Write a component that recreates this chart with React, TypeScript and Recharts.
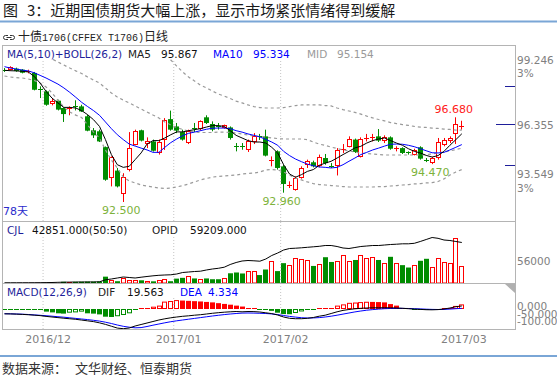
import React from 'react';
import { ComposedChart, Bar, Line, XAxis, YAxis, ReferenceLine, ReferenceDot } from 'recharts';

// ---------- data ----------
const dates = [
  '2016-11-22','2016-11-23','2016-11-24','2016-11-25','2016-11-28','2016-11-29','2016-11-30',
  '2016-12-01','2016-12-02','2016-12-05','2016-12-06','2016-12-07','2016-12-08','2016-12-09','2016-12-12','2016-12-13','2016-12-14','2016-12-15','2016-12-16','2016-12-19','2016-12-20','2016-12-21','2016-12-22','2016-12-23','2016-12-26','2016-12-27','2016-12-28','2016-12-29','2016-12-30',
  '2017-01-03','2017-01-04','2017-01-05','2017-01-06','2017-01-09','2017-01-10','2017-01-11','2017-01-12','2017-01-13','2017-01-16','2017-01-17','2017-01-18','2017-01-19','2017-01-20','2017-01-23','2017-01-24','2017-01-25','2017-01-26',
  '2017-02-03','2017-02-06','2017-02-07','2017-02-08','2017-02-09','2017-02-10','2017-02-13','2017-02-14','2017-02-15','2017-02-16','2017-02-17','2017-02-20','2017-02-21','2017-02-22','2017-02-23','2017-02-24','2017-02-27','2017-02-28',
  '2017-03-01','2017-03-02','2017-03-03','2017-03-06','2017-03-07','2017-03-08','2017-03-09','2017-03-10','2017-03-13','2017-03-14','2017-03-15','2017-03-16','2017-03-17',
];

const open = [
  99.03, 99.01, 99.08, 99.03, 98.88, 98.87, 98.10, 97.96, 97.34, 97.50,
  97.14, 97.07, 97.22, 97.22, 96.73, 96.04, 95.99, 95.21, 93.65, 94.05,
  92.86, 94.05, 95.33, 96.04, 95.36, 95.49, 94.92, 95.57, 96.59, 96.23,
  95.95, 95.41, 96.15, 96.07, 96.68, 96.35, 96.27, 96.15, 96.18, 95.28,
  95.28, 95.03, 95.49, 95.74, 95.74, 94.52, 95.00, 94.26, 93.27, 93.11,
  93.68, 94.31, 94.46, 94.26, 94.67, 94.29, 94.31, 95.07, 95.25, 95.58,
  94.75, 95.59, 95.63, 95.74, 95.49, 95.69, 95.10, 95.16, 94.95, 94.84,
  95.20, 94.57, 94.42, 94.64, 95.33, 95.49, 95.86, 96.21,
];
const high = [
  99.11, 99.20, 99.13, 99.06, 99.03, 98.92, 98.21, 98.01, 97.60, 97.55,
  97.17, 97.22, 97.52, 97.30, 96.81, 96.15, 96.07, 95.24, 94.75, 94.18,
  93.92, 95.95, 96.07, 96.07, 95.69, 95.58, 95.58, 96.64, 97.01, 96.40,
  96.07, 96.07, 96.40, 96.53, 96.78, 96.48, 96.40, 96.32, 96.23, 95.41,
  95.41, 95.58, 95.90, 95.86, 96.07, 94.75, 95.05, 94.34, 93.52, 93.77,
  94.26, 94.59, 94.54, 94.84, 94.87, 94.42, 95.16, 95.36, 95.74, 95.63,
  95.69, 95.86, 95.86, 96.10, 95.79, 95.74, 95.25, 95.20, 95.00, 95.13,
  95.25, 94.67, 94.72, 95.66, 95.66, 95.74, 96.68, 96.51,
];
const low = [
  98.92, 98.98, 98.93, 98.85, 98.85, 98.01, 97.63, 97.25, 97.27, 97.02,
  96.45, 96.78, 97.02, 96.94, 95.99, 95.66, 95.46, 93.55, 93.27, 93.22,
  92.50, 94.01, 95.30, 95.49, 95.16, 94.99, 94.84, 95.07, 96.02, 95.90,
  95.53, 95.36, 95.95, 96.02, 96.35, 95.99, 96.07, 96.12, 95.58, 95.00,
  95.08, 94.97, 95.36, 95.56, 94.75, 94.26, 94.10, 92.96, 93.19, 93.06,
  93.65, 94.18, 94.21, 94.21, 94.34, 94.18, 93.81, 94.92, 95.20, 94.92,
  94.70, 95.49, 95.49, 95.46, 95.41, 95.08, 95.00, 94.87, 94.84, 94.80,
  94.59, 94.47, 94.37, 94.59, 95.25, 95.41, 95.36, 96.07,
];
const close = [
  98.98, 99.15, 98.97, 98.88, 98.95, 98.04, 98.08, 97.30, 97.50, 97.06,
  96.84, 97.12, 97.17, 96.97, 96.02, 95.79, 95.49, 93.60, 94.70, 93.27,
  93.72, 95.16, 96.02, 95.53, 95.53, 95.03, 95.46, 96.56, 96.07, 96.02,
  95.58, 95.99, 96.10, 96.48, 96.40, 96.07, 96.22, 96.28, 95.66, 95.21,
  95.21, 95.49, 95.77, 95.69, 94.79, 94.57, 94.18, 93.39, 93.32, 93.68,
  94.18, 94.51, 94.26, 94.72, 94.42, 94.24, 95.08, 95.13, 95.63, 94.97,
  95.63, 95.66, 95.69, 95.53, 95.69, 95.13, 95.16, 94.92, 94.90, 95.08,
  94.64, 94.52, 94.67, 95.44, 95.58, 95.66, 96.35, 96.27,
];
const ma5 = [
  99.00, 98.98, 98.97, 98.95, 98.92, 98.70, 98.37, 97.96, 97.63, 97.39,
  97.17, 97.17, 97.14, 97.01, 96.81, 96.56, 96.23, 95.58, 94.84, 94.34,
  94.21, 94.26, 94.59, 94.92, 95.36, 95.53, 95.53, 95.66, 95.82, 95.96,
  95.96, 96.02, 96.07, 96.12, 96.20, 96.27, 96.27, 96.23, 96.02, 95.79,
  95.66, 95.53, 95.46, 95.46, 95.41, 95.20, 94.92, 94.34, 93.88, 93.72,
  93.85, 94.01, 94.10, 94.31, 94.42, 94.51, 94.67, 94.84, 95.00, 95.17,
  95.25, 95.41, 95.53, 95.61, 95.66, 95.53, 95.41, 95.30, 95.13, 95.00,
  94.92, 94.80, 94.72, 94.79, 95.00, 95.30, 95.58, 95.867,
];
const ma10 = [
  99.18, 99.11, 99.06, 99.01, 98.97, 98.88, 98.75, 98.62, 98.47, 98.32,
  98.13, 97.91, 97.67, 97.42, 97.21, 97.01, 96.78, 96.45, 96.12, 95.82,
  95.58, 95.36, 95.26, 95.16, 95.07, 94.95, 94.95, 95.20, 95.43, 95.61,
  95.77, 95.89, 95.95, 96.02, 96.09, 96.14, 96.15, 96.15, 96.12, 96.02,
  95.95, 95.86, 95.79, 95.71, 95.59, 95.46, 95.30, 95.00, 94.79, 94.62,
  94.49, 94.37, 94.29, 94.23, 94.21, 94.18, 94.21, 94.34, 94.51, 94.67,
  94.84, 94.95, 95.07, 95.16, 95.26, 95.35, 95.36, 95.35, 95.30, 95.23,
  95.13, 95.03, 94.93, 94.92, 94.95, 95.07, 95.20, 95.334,
];
const bollMid = [
  100.69, 100.55, 100.40, 100.25, 100.10, 99.95, 99.83, 99.71, 99.56, 99.41,
  99.26, 99.11, 98.97, 98.84, 98.67, 98.52, 98.37, 98.13, 97.88, 97.68,
  97.53, 97.39, 97.24, 97.09, 96.94, 96.79, 96.65, 96.45, 96.30, 96.18,
  96.08, 96.00, 95.95, 95.93, 95.93, 95.93, 95.95, 95.95, 95.93, 95.91,
  95.86, 95.81, 95.76, 95.73, 95.71, 95.66, 95.63, 95.61, 95.61, 95.61,
  95.61, 95.58, 95.46, 95.36, 95.29, 95.21, 95.14, 95.07, 95.02, 94.97,
  94.91, 94.89, 94.87, 94.84, 94.82, 94.82, 94.82, 94.82, 94.82, 94.82,
  94.82, 94.84, 94.87, 94.92, 94.97, 95.02, 95.09, 95.154,
];
const bollUpper = [
  102.66, 102.43, 102.16, 101.88, 101.63, 101.40, 101.29, 101.24, 101.24, 101.29,
  101.33, 101.28, 101.15, 101.01, 101.04, 101.09, 101.08, 101.19, 101.19, 101.18,
  101.32, 101.24, 101.04, 100.84, 100.69, 100.40, 100.10, 99.80, 99.51, 99.21,
  98.92, 98.67, 98.47, 98.27, 98.13, 97.98, 97.83, 97.73, 97.61, 97.48,
  97.39, 97.29, 97.21, 97.16, 97.14, 97.14, 97.14, 97.16, 97.21, 97.26,
  97.29, 97.29, 97.29, 97.29, 97.26, 97.24, 97.14, 97.06, 96.99, 96.92,
  96.84, 96.74, 96.65, 96.57, 96.50, 96.42, 96.37, 96.32, 96.28, 96.23,
  96.20, 96.18, 96.15, 96.13, 96.10, 96.08, 96.05, 96.05,
];
const bollLower = [
  98.72, 98.67, 98.64, 98.62, 98.57, 98.50, 98.37, 98.18, 97.88, 97.53,
  97.19, 96.94, 96.79, 96.67, 96.30, 95.95, 95.66, 95.07, 94.57, 94.18,
  93.74, 93.54, 93.44, 93.34, 93.29, 93.24, 93.19, 93.17, 93.19, 93.24,
  93.31, 93.39, 93.49, 93.59, 93.66, 93.73, 93.76, 93.78, 93.81, 93.83,
  93.88, 93.91, 93.93, 93.98, 94.08, 94.10, 94.08, 93.98, 93.83, 93.68,
  93.59, 93.49, 93.41, 93.36, 93.34, 93.31, 93.29, 93.26, 93.24, 93.24,
  93.24, 93.24, 93.24, 93.26, 93.26, 93.29, 93.31, 93.34, 93.36, 93.39,
  93.41, 93.44, 93.46, 93.51, 93.64, 93.83, 93.98, 94.10,
];
const volume = [
  1000, 1100, 900, 1000, 1200, 1400, 1300, 1500, 1400, 1600,
  3000, 2600, 2800, 3200, 3500, 3400, 3800, 16000, 8500, 4500,
  12000, 8500, 8000, 6800, 5000, 4200, 6800, 9300, 4500, 11000,
  13000, 17500, 11500, 10000, 11500, 9500, 9500, 12000, 24500, 26500,
  24000, 30000, 30000, 20000, 34000, 55000, 30000, 50000, 45000, 63000,
  60000, 57000, 43000, 47000, 65000, 53000, 55000, 70000, 55000, 58000,
  70000, 62000, 66000, 58000, 51000, 66000, 51000, 45000, 39000, 45000,
  56000, 61000, 41000, 62000, 54000, 51000, 112600, 42851,
];
const openInterest = [
  300, 320, 350, 380, 400, 450, 500, 600, 730, 1000,
  1200, 1300, 1460, 1460, 1500, 1500, 1750, 4700, 5850, 7300,
  8770, 8040, 7300, 8470, 9500, 10500, 11250, 11700, 12000, 13150,
  15340, 16070, 16800, 17240, 19000, 20450, 21480, 23080, 27030, 29950,
  32140, 32870, 32430, 31850, 35060, 40180, 43830, 48210, 50400, 50840,
  51430, 52160, 52890, 53620, 54790, 54790, 53330, 51140, 50400, 51870,
  53330, 54060, 54790, 54790, 55520, 56250, 56690, 57270, 57270, 58000,
  60630, 63550, 66480, 65300, 62820, 62090, 60630, 59209,
];
const dif = [
  -31.5, -32, -33.3, -35, -37.2, -40, -43, -48, -52, -56,
  -60, -63.5, -67, -72, -77, -82, -90, -100, -112, -124,
  -128, -123.5, -110.5, -100.8, -91, -81.3, -71.5, -63.7, -57.2, -52,
  -47.5, -44.2, -40.3, -37.1, -32.5, -27.9, -24, -20.8, -18.2, -16.3,
  -18.2, -16.3, -16.9, -19.5, -24.7, -29.9, -39, -52, -60.5, -63.1,
  -63.1, -60.5, -55.3, -46.8, -40.3, -29.3, -18.2, -9.1, -3.3, 1.3,
  4.6, 6.5, 7.8, 7.8, 8.5, 7.8, 6.5, 4.6, 2, -0.7,
  -2.6, -4.6, -5.2, -3.9, 0, 6.5, 14.9, 19.563,
];
const dea = [
  -30.6, -31.2, -32.5, -33.8, -35.8, -38.4, -40.9, -43.6, -46.8, -50.1,
  -53.3, -57.2, -61.1, -65, -68.9, -73.5, -78.7, -85.8, -94.3, -104,
  -112.5, -118.3, -122.2, -120.9, -113.8, -105.3, -97.5, -89.7, -82.6, -76.7,
  -71.5, -66.3, -61.1, -55.9, -50.7, -45.5, -40.9, -36.4, -32.5, -29.3,
  -26.7, -26, -26.7, -27.9, -29.3, -31.9, -36.4, -42.3, -48.1, -52.7,
  -56.6, -58.5, -57.9, -55.9, -52, -46.8, -40.3, -33.2, -26, -18.9,
  -13, -7.8, -3.9, -0.7, 2, 3.3, 3.9, 3.9, 3.3, 2,
  0.7, -1.3, -2.6, -3.3, -2.6, -0.7, 2, 4.334,
];
const macdHist = [
  -6, -5, -2, -2, -3, -3, -4, -17, -22, -28,
  -30, -24, -22, -17, -28, -30, -35, -50, -52, -47,
  -39, -28, -2, 2, 3, 15, 22, 48, 52, 58,
  55, 53, 51, 49, 46, 43, 38, 33, 28, 22,
  16, 10, 6, -3, -6, -12, -24, -33, -34, -26,
  -16, -6, -3, 2, 5, 7, 22, 30, 40, 42,
  45, 47, 46, 45, 43, 32, 22, 6, 3, -2,
  -7, -10, -5, -2, 2, 8, 20, 30,
];

const monthStarts = ['2016-12-01', '2017-01-03', '2017-02-03'];
const monthLabelDates = ['2016-12-01', '2017-01-03', '2017-02-03', '2017-03-17'];
const monthLabels = ['2016/12', '2017/01', '2017/02', '2017/03'];
const priceTicks = [99.246, 96.355, 93.549];
const priceMarks = [98.23, 94.33];
const volumeTicks = [56000];
const macdTicks = [0, -50, -100];
const extremes = [
  { date: '2016-12-20', kind: 'low', dx: -2, dy: 9 },
  { date: '2017-02-03', kind: 'low', dx: -2, dy: 9 },
  { date: '2017-03-09', kind: 'low', dx: 4, dy: 10 },
  { date: '2017-03-16', kind: 'high', dx: -2, dy: -8 },
];

// ---------- style ----------
const RED = '#ff0000';
const GREEN = '#008c00';
const NAVY = '#1e1e9a';
const BLUE = '#0000ff';
const GRAY = '#808080';
const FRAME = '#b4b4b4';
const GRID = '#c4c4c4';
const FONT = '"DejaVu Sans", Verdana, sans-serif';
const CJK = '"Noto Sans CJK SC", sans-serif';
const W = 557;
const AXIS_W = 44.7;
const MARGIN = { top: 0, right: 0, bottom: 0, left: 1.5 };
const PAD_SLOTS = 8;

const rows: any[] = [
  ...dates.map((date, i) => ({
    date, o: open[i], h: high[i], l: low[i], c: close[i],
    ma5: ma5[i], ma10: ma10[i], mid: bollMid[i], upper: bollUpper[i], lower: bollLower[i],
    vol: volume[i], oi: openInterest[i], dif: dif[i], dea: dea[i], macd: macdHist[i],
  })),
  ...Array.from({ length: PAD_SLOTS }, (_, k) => ({ date: `pad-${k}` })),
];

const last = dates.length - 1;

// ---------- shapes ----------
const Candle = (p: any) => {
  const d = p.payload;
  if (!d || d.o == null) return null;
  const top = Math.min(p.y, p.y + p.height);
  const bot = Math.max(p.y, p.y + p.height);
  const k = (bot - top) / (d.h - d.l);
  const cx = Math.floor(p.x + p.width / 2) + 0.5;
  const yo = top + (d.h - d.o) * k;
  const yc = top + (d.h - d.c) * k;
  const up = d.c >= d.o;
  const col = up ? RED : GREEN;
  const bt = Math.min(yo, yc);
  const bb = Math.max(yo, yc);
  const bh = bb - bt;
  let body;
  if (bh < 1.5) {
    const yy = Math.round(bt) + 0.5;
    body = <line x1={cx - 2.5} x2={cx + 2.5} y1={yy} y2={yy} stroke={col} strokeWidth={1} />;
  } else if (up) {
    body = <rect x={cx - 2} y={Math.round(bt) + 0.5} width={4} height={Math.max(1, Math.round(bh) - 1)} fill="#fff" stroke={col} strokeWidth={1} />;
  } else {
    body = <rect x={cx - 2.5} y={bt} width={5} height={bh} fill={col} />;
  }
  return (
    <g>
      <line x1={cx} x2={cx} y1={top} y2={bot} stroke={col} strokeWidth={1} />
      {body}
    </g>
  );
};

const VolBar = (p: any) => {
  const d = p.payload;
  if (!d || d.vol == null) return null;
  const top = Math.min(p.y, p.y + p.height);
  const bot = Math.max(p.y, p.y + p.height);
  if (bot - top < 0.8) return null;
  const cx = Math.floor(p.x + p.width / 2) + 0.5;
  const up = d.c >= d.o;
  if (up) return <rect x={cx - 2} y={Math.round(top) + 0.5} width={4} height={Math.max(0.5, bot - Math.round(top) - 0.5)} fill="#fff" stroke={RED} strokeWidth={1} />;
  return <rect x={cx - 2.5} y={top} width={5} height={bot - top} fill={GREEN} />;
};

const MacdBar = (p: any) => {
  const d = p.payload;
  if (!d || d.macd == null) return null;
  const i = p.index;
  const v = d.macd;
  const prev = i > 0 ? macdHist[i - 1] : v;
  const pos = v >= 0;
  const col = pos ? RED : GREEN;
  const hollow = v >= prev;
  const top = Math.min(p.y, p.y + p.height);
  const bot = Math.max(p.y, p.y + p.height);
  const cx = Math.floor(p.x + p.width / 2) + 0.5;
  const h = bot - top;
  if (h < 1.6) {
    const yy = pos ? Math.round(bot) - 0.5 : Math.round(top) + 0.5;
    return <line x1={cx - 2.5} x2={cx + 2.5} y1={yy} y2={yy} stroke={col} strokeWidth={1} />;
  }
  if (hollow) return <rect x={cx - 2} y={top + 0.5} width={4} height={h - 1} fill="#fff" stroke={col} strokeWidth={1} />;
  return <rect x={cx - 2.5} y={top} width={5} height={h} fill={col} />;
};

const txt = (fill: string, size = 10.5) => ({ fill, fontSize: size, fontFamily: FONT, dominantBaseline: 'central' as const });

const PriceTick = (p: any) => {
  const v = p.payload.value;
  const y = p.y;
  if (priceMarks.includes(v)) {
    const yy = Math.round(y) + 0.5;
    return <line x1={505} x2={515} y1={yy} y2={yy} stroke={NAVY} strokeWidth={1} />;
  }
  const center = priceTicks[1];
  if (v === center) {
    const yy = Math.round(y) + 0.5;
    return (
      <g>
        <line x1={496} x2={515} y1={yy} y2={yy} stroke={NAVY} strokeWidth={1} />
        <text x={517} y={y + 1} {...txt(GRAY)}>{v.toFixed(3)}</text>
      </g>
    );
  }
  const pct = Math.round(Math.abs(v / center - 1) * 100);
  const above = v > center;
  return (
    <g>
      <text x={517} y={y + (above ? -5.3 : -6.7)} {...txt(GRAY)}>{v.toFixed(3)}</text>
      <text x={517} y={y + (above ? 7.7 : 7.3)} {...txt(GRAY)}>{pct}%</text>
    </g>
  );
};

const VolTick = (p: any) => (
  <text x={517} y={p.y} {...txt(GRAY)}>{String(p.payload.value)}</text>
);

const MacdTick = (p: any) => {
  const v = p.payload.value;
  const s = v === 0 ? '0.000' : v <= -100 ? v.toFixed(2) : v.toFixed(3);
  return <text x={517} y={p.y - 3} {...txt(GRAY)}>{s}</text>;
};

const DateTick = (p: any) => {
  const idx = monthLabelDates.indexOf(p.payload.value);
  if (idx < 0) return null;
  return <text x={p.x + 2} y={56} textAnchor="middle" {...txt(GRAY, 11)}>{monthLabels[idx]}</text>;
};

const gridLines = monthStarts.map((d) => (
  <ReferenceLine key={d} x={d} position="start" stroke={GRID} strokeDasharray="1 2" />
));

// ---------- charts ----------
const MainChart = () => (
  <ComposedChart width={W} height={176} data={rows} margin={MARGIN}>
    <XAxis dataKey="date" hide />
    <YAxis orientation="right" width={AXIS_W} domain={[91.562, 100.249]} allowDataOverflow
      ticks={[...priceTicks, ...priceMarks].sort((a, b) => b - a)} interval={0}
      axisLine={false} tickLine={false} tick={(p: any) => <PriceTick {...p} />} />
    {gridLines}
    <Line dataKey="upper" stroke="#9a9a9a" strokeWidth={1.2} strokeDasharray="3 3" dot={false} isAnimationActive={false} />
    <Line dataKey="mid" stroke="#9a9a9a" strokeWidth={1.2} strokeDasharray="3 3" dot={false} isAnimationActive={false} />
    <Line dataKey="lower" stroke="#9a9a9a" strokeWidth={1.2} strokeDasharray="3 3" dot={false} isAnimationActive={false} />
    <Bar dataKey={(d: any) => (d.h == null ? null : [d.l, d.h])} shape={(p: any) => <Candle {...p} />} isAnimationActive={false} />
    <Line dataKey="ma10" stroke={BLUE} strokeWidth={1} dot={false} isAnimationActive={false} />
    <Line dataKey="ma5" stroke="#000" strokeWidth={1} dot={false} isAnimationActive={false} />
    {extremes.map((m) => {
      const i = dates.indexOf(m.date);
      const v = m.kind === 'low' ? low[i] : high[i];
      const col = m.kind === 'low' ? '#7db23a' : '#ff2020';
      return (
        <ReferenceDot key={m.date} x={m.date} y={v} r={0}
          shape={(p: any) => (
            <text x={p.cx + m.dx} y={p.cy + m.dy} textAnchor="middle" {...txt(col, 11)}>{v.toFixed(3)}</text>
          )} />
      );
    })}
  </ComposedChart>
);

const VolumeChart = () => (
  <ComposedChart width={W} height={62} data={rows} margin={MARGIN}>
    <XAxis dataKey="date" hide />
    <YAxis yAxisId="v" orientation="right" width={AXIS_W} domain={[0, 156240]} allowDataOverflow
      ticks={volumeTicks} interval={0} axisLine={false} tickLine={false} tick={(p: any) => <VolTick {...p} />} />
    <YAxis yAxisId="o" hide domain={[0, 90600]} allowDataOverflow />
    {monthStarts.map((d) => (
      <ReferenceLine key={d} x={d} yAxisId="v" position="start" stroke={GRID} strokeDasharray="1 2" />
    ))}
    <Bar yAxisId="v" dataKey="vol" shape={(p: any) => <VolBar {...p} />} isAnimationActive={false} />
    <Line yAxisId="o" dataKey="oi" stroke="#000" strokeWidth={1} dot={false} isAnimationActive={false} />
  </ComposedChart>
);

const MacdChart = () => (
  <ComposedChart width={W} height={66} data={rows} margin={MARGIN}>
    <XAxis dataKey="date" height={20} ticks={monthLabelDates} interval={0} axisLine={false} tickLine={false}
      tick={(p: any) => <DateTick {...p} />} />
    <YAxis orientation="right" width={AXIS_W} domain={[-130, 169]} allowDataOverflow
      ticks={macdTicks} interval={0} axisLine={false} tickLine={false} tick={(p: any) => <MacdTick {...p} />} />
    {gridLines}
    <Bar dataKey="macd" shape={(p: any) => <MacdBar {...p} />} isAnimationActive={false} />
    <Line dataKey="dea" stroke={BLUE} strokeWidth={1} dot={false} isAnimationActive={false} />
    <Line dataKey="dif" stroke="#000" strokeWidth={1} dot={false} isAnimationActive={false} />
  </ComposedChart>
);

// ---------- page ----------
export default function App() {
  const t = (x: number, y: number, fill: string, s: string, size = 10.5) => (
    <text x={x} y={y} {...txt(fill, size)}>{s}</text>
  );
  return (
    <div style={{ position: 'absolute', left: 0, top: 0, width: W, height: 377, background: '#fff', overflow: 'hidden' }}>
      <div style={{ position: 'absolute', left: 0, top: 45 }}><MainChart /></div>
      <div style={{ position: 'absolute', left: 0, top: 221 }}><VolumeChart /></div>
      <div style={{ position: 'absolute', left: 0, top: 283 }}><MacdChart /></div>
      <svg width={W} height={377} style={{ position: 'absolute', left: 0, top: 0, pointerEvents: 'none' }}>
        {/* title */}
        <text y={16} fontFamily={CJK} fontSize={15} fill="#1a1a1a">
          <tspan x={3}>图</tspan>
          <tspan x={27}>3：近期国债期货大幅上涨，显示市场紧张情绪得到缓解</tspan>
        </text>
        <rect x={0} y={20.5} width={W} height={2} fill="#7aa6d6" />
        {/* subtitle */}
        <path d="M8,35.5 H5.5 a2,2 0 0 0 0,4 H8 M10,35.5 H12.5 a2,2 0 0 1 0,4 H10 M6.5,37.5 H11.5" fill="none" stroke="#333" strokeWidth={1} />
        <text y={41} fill="#222">
          <tspan x={18} fontFamily={CJK} fontSize={12}>十债</tspan>
          <tspan fontFamily='"Liberation Mono", monospace' fontSize={10}>1706(CFFEX T1706)</tspan>
          <tspan fontFamily={CJK} fontSize={12}>日线</tspan>
        </text>
        {/* header backgrounds */}
        <rect x={3} y={46} width={380} height={13} fill="#fff" />
        <rect x={3} y={222} width={250} height={14} fill="#fff" />
        <rect x={3} y={284} width={250} height={14} fill="#fff" />
        {/* frame */}
        <g stroke={FRAME} strokeWidth={1} fill="none">
          <line x1={2.5} x2={2.5} y1={45} y2={330} />
          <line x1={515.5} x2={515.5} y1={45} y2={330} />
          <line x1={2.5} x2={515.5} y1={45.5} y2={45.5} />
          <line x1={2.5} x2={515.5} y1={221.5} y2={221.5} />
          <line x1={2.5} x2={515.5} y1={283.5} y2={283.5} />
          <line x1={2.5} x2={515.5} y1={329.5} y2={329.5} />
        </g>
        <path d="M505,284 L515,284 L515,293 Z" fill="#b0b0b0" />
        {/* main header */}
        {t(7, 54, NAVY, 'MA(5,10)+BOLL(26,2)')}
        {t(128, 54, '#222', 'MA5')}
        {t(161, 54, '#111', ma5[last].toFixed(3))}
        {t(213, 54, BLUE, 'MA10')}
        {t(253, 54, BLUE, ma10[last].toFixed(3))}
        {t(307, 54, '#9a9a9a', 'MID')}
        {t(337, 54, '#9a9a9a', bollMid[last].toFixed(3))}
        {/* volume header */}
        {t(7, 230, NAVY, 'CJL')}
        {t(32, 230, '#111', `${volume[last].toFixed(3)}(50:50)`)}
        {t(152, 230, '#222', 'OPID')}
        {t(190, 230, '#111', openInterest[last].toFixed(3))}
        {/* macd header */}
        {t(7, 292, NAVY, 'MACD(12,26,9)')}
        {t(98, 292, '#222', 'DIF')}
        {t(127, 292, '#111', dif[last].toFixed(3))}
        {t(180, 292, BLUE, 'DEA')}
        {t(208, 292, BLUE, dea[last].toFixed(3))}
        {/* days count */}
        <text x={3} y={211} fill="#2b2bcc" fontSize={11} fontFamily={`${FONT}, ${CJK}`} dominantBaseline="central">{`${dates.length}天`}</text>
        {/* footer */}
        <rect x={0} y={355} width={W} height={2} fill="#7aa6d6" />
        <text y={373} fontFamily={CJK} fontSize={13} fill="#333">
          <tspan x={2}>数据来源：</tspan>
          <tspan x={75}>文华财经、恒泰期货</tspan>
        </text>
      </svg>
    </div>
  );
}
